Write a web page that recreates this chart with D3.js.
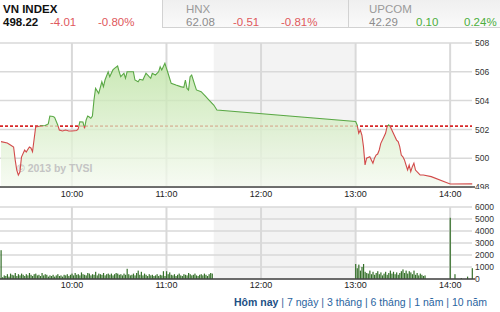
<!DOCTYPE html>
<html>
<head>
<meta charset="utf-8">
<script src="https://cdn.jsdelivr.net/npm/d3@7"></script>
<style>
  body { margin: 0; background: #fff; }
  svg { display: block; font-family: "Liberation Sans", Arial, sans-serif; }
</style>
</head>
<body>
<svg id="chart" width="500" height="312"></svg>
<script>
// --- data ---
var prevClose = 502.23;

var priceTimes = ["9:15","9:19","9:21","9:23","9:24","9:25","9:26","9:27","9:28","9:30","9:31","9:33","9:34","9:35",
  "9:37","9:40","9:43","9:45","9:46","9:48","9:49","9:51","9:52","9:54","9:56","9:58","10:00","10:03","10:04",
  "10:05","10:07","10:08","10:09","10:10","10:11","10:12","10:13","10:14","10:15","10:17","10:19","10:20","10:21",
  "10:23","10:24","10:26","10:27","10:29","10:30","10:31","10:33","10:34","10:35","10:39","10:40","10:42","10:43",
  "10:45","10:47","10:49","10:50","10:51","10:53","10:55","10:56","10:57","10:59","11:00","11:01","11:03","11:06",
  "11:09","11:11","11:12","11:13","11:14","11:15","11:16","11:18","11:19","11:22","11:25","11:27","11:30","11:32",
  "13:00","13:01","13:02","13:03","13:04","13:05","13:06","13:07","13:09","13:10","13:11","13:12","13:13","13:14",
  "13:15","13:16","13:18","13:19","13:20","13:21","13:22","13:23","13:25","13:26","13:27","13:28","13:29","13:30",
  "13:31","13:32","13:33","13:34","13:35","13:36","13:37","13:38","13:40","13:41","13:43","13:48","14:00","14:14"];
var priceValues = [501.15,501.06,500.92,500.78,499.88,499.18,498.83,499.04,500.08,500.57,500.43,500.78,500.71,500.45,
  502.17,502.24,502.27,502.38,502.93,502.90,502.84,502.31,501.96,501.89,501.96,501.89,501.89,501.92,502.03,
  502.53,502.51,502.07,502.65,502.93,502.86,502.77,502.93,504.04,504.85,504.50,505.31,504.97,505.43,
  506.00,505.66,506.13,506.24,506.40,506.00,505.66,505.90,505.55,506.00,506.00,505.43,505.31,505.48,
  505.43,505.90,505.66,505.55,505.90,505.78,506.00,506.35,506.13,506.59,506.24,505.90,505.20,505.08,
  504.97,504.92,505.43,504.85,504.74,505.66,505.78,505.08,504.74,504.62,504.27,504.04,503.69,503.35,
  502.55,502.31,501.73,501.96,501.61,500.80,499.53,500.00,500.10,499.88,499.65,500.00,500.22,500.29,
  500.57,501.03,501.49,501.73,502.19,502.31,502.19,501.96,501.49,501.26,501.15,500.80,500.22,500.10,
  499.88,499.53,499.18,499.53,499.06,499.41,499.65,499.18,498.95,498.83,498.83,498.72,498.21,498.22];

// volume, one bar per minute from the session start
var volMorningStart = "9:15";
var volMorning = [2400,150,300,250,400,200,450,350,300,500,250,400,300,450,350,
  250,400,300,500,350,250,400,450,300,350,250,500,300,400,350,
  200,300,250,350,200,300,400,250,300,200,350,300,400,250,350,
  450,300,500,350,400,300,550,400,350,300,500,450,300,400,350,
  600,300,450,400,350,500,300,400,450,350,450,300,400,500,450,
  350,400,300,450,350,850,400,300,350,450,300,500,700,350,600,
  300,450,350,250,400,300,350,250,300,400,250,350,300,650,250,
  650,400,550,350,300,400,250,350,450,300,250,400,350,300,500,
  400,300,350,450,300,250,350,400,300,450,350,250,400,500,450];
var volAfternoonStart = "13:00";
var volAfternoon = [1250,900,1200,700,1000,1250,600,500,450,700,400,600,350,500,650,
  400,550,300,450,600,350,500,700,450,600,400,550,350,500,650,
  800,500,700,450,650,550,400,700,350,500,300,450,350,250,300];
var volCloseTimes = ["14:00","14:03","14:07","14:11","14:14"];
var volClose = [5100,400,80,200,900];

var timeTicks = ["10:00","11:00","12:00","13:00","14:00"];
var priceTicks = [498,500,502,504,506,508];
var volTicks = [0,1000,2000,3000,4000,5000,6000];
var lunchBreak = ["11:30","13:00"];

var header = [
  {name:"VN INDEX", last:"498.22", chg:"-4.01", pct:"-0.80%", up:false, active:true},
  {name:"HNX", last:"62.08", chg:"-0.51", pct:"-0.81%", up:false, active:false},
  {name:"UPCOM", last:"42.29", chg:"0.10", pct:"0.24%", up:true, active:false}
];
var periodLinks = ["Hôm nay","7 ngày","3 tháng","6 tháng","1 năm","10 năm"];

// --- helpers ---
function mins(s){ var p = s.split(":"); return +p[0]*60 + +p[1]; }

var priceData = priceTimes.map(function(t,i){ return {t: mins(t), v: priceValues[i]}; });
var volData = [];
volMorning.forEach(function(v,i){ volData.push({t: mins(volMorningStart)+i, v: v}); });
volAfternoon.forEach(function(v,i){ volData.push({t: mins(volAfternoonStart)+i, v: v}); });
volCloseTimes.forEach(function(t,i){ volData.push({t: mins(t), v: volClose[i]}); });

var svg = d3.select("#chart");
var plotL = 0, plotR = 472;

var x = d3.scaleLinear().domain([mins("9:15"), mins("14:14")+0.5]).range([1, 473]);
var y = d3.scaleLinear().domain([498, 508]).range([187, 43]);
var yv = d3.scaleLinear().domain([0, 6000]).range([279, 207]);

// --- header tabs ---
var defs = svg.append("defs");
var tabGrad = defs.append("linearGradient").attr("id","tabGrad").attr("x1",0).attr("y1",0).attr("x2",0).attr("y2",1);
tabGrad.append("stop").attr("offset","0%").attr("stop-color","#efefef");
tabGrad.append("stop").attr("offset","100%").attr("stop-color","#fafafa");

svg.append("rect").attr("x",162.5).attr("y",-1).attr("width",340).attr("height",28.5)
  .attr("fill","url(#tabGrad)").attr("stroke","#d2d2d2");
svg.append("line").attr("x1",348.5).attr("x2",348.5).attr("y1",0).attr("y2",27.5).attr("stroke","#d2d2d2");

var tabX = [3, 186, 369];
header.forEach(function(h,i){
  var g = svg.append("g").attr("transform","translate(" + tabX[i] + ",0)");
  g.append("text").attr("x",0).attr("y",12.5).text(h.name)
    .attr("font-size",11.5).attr("font-weight", h.active ? "bold" : "normal")
    .attr("fill", h.active ? "#111" : "#9a9a9a");
  g.append("text").attr("x",0).attr("y",25.5).text(h.last)
    .attr("font-size",11.5).attr("font-weight", h.active ? "bold" : "normal")
    .attr("fill", h.active ? "#111" : "#8c8c8c");
  var c = h.up ? "#4cae3c" : "#e0585c";
  g.append("text").attr("x",47).attr("y",25.5).text(h.chg).attr("font-size",11.5).attr("fill",c);
  g.append("text").attr("x",95).attr("y",25.5).text(h.pct).attr("font-size",11.5).attr("fill",c);
});

// --- panels: lunch shading + grid ---
function panel(yScale, ticks, top, bottom){
  svg.append("rect").attr("x", x(mins(lunchBreak[0]))).attr("y", top)
    .attr("width", x(mins(lunchBreak[1])) - x(mins(lunchBreak[0]))).attr("height", bottom - top)
    .attr("fill", "#f3f3f3");
  svg.append("g").selectAll("line").data(ticks).join("line")
    .attr("x1", plotL).attr("x2", plotR)
    .attr("y1", function(d){ return yScale(d); }).attr("y2", function(d){ return yScale(d); })
    .attr("stroke", "#d9d9d9").attr("stroke-width", 1.5);
  svg.append("g").selectAll("line").data(timeTicks).join("line")
    .attr("x1", function(d){ return x(mins(d)); }).attr("x2", function(d){ return x(mins(d)); })
    .attr("y1", top).attr("y2", bottom)
    .attr("stroke", "#d9d9d9").attr("stroke-width", 2);
}
panel(y, priceTicks, 43, 187);
panel(yv, volTicks, 207, 279);

// --- price chart ---
var grad = defs.append("linearGradient").attr("id","areaGrad")
  .attr("gradientUnits","userSpaceOnUse").attr("x1",0).attr("y1",43).attr("x2",0).attr("y2",187);
grad.append("stop").attr("offset","0%").attr("stop-color","#b2de95");
grad.append("stop").attr("offset","100%").attr("stop-color","#f5faf0");

defs.append("clipPath").attr("id","clipUp").append("rect")
  .attr("x",0).attr("y",0).attr("width",500).attr("height", y(prevClose));
defs.append("clipPath").attr("id","clipDown").append("rect")
  .attr("x",0).attr("y", y(prevClose)).attr("width",500).attr("height", 300);

// reference line (previous close)
svg.append("line").attr("x1", plotL).attr("x2", plotR)
  .attr("y1", y(prevClose)).attr("y2", y(prevClose))
  .attr("stroke", "#d82828").attr("stroke-width", 1.6).attr("stroke-dasharray", "3,2");

var area = d3.area().x(function(d){ return x(d.t); }).y0(y(498)).y1(function(d){ return y(d.v); });
svg.append("path").datum(priceData).attr("d", area).attr("fill", "url(#areaGrad)").attr("opacity", 0.78);

// watermark
svg.append("text").attr("x",17).attr("y",172).text("© 2013 by TVSI")
  .attr("font-size",10.5).attr("font-weight","bold").attr("fill","#c4c4c4");

var line = d3.line().x(function(d){ return x(d.t); }).y(function(d){ return y(d.v); });
svg.append("path").datum(priceData).attr("d", line).attr("fill","none")
  .attr("stroke","#5aa845").attr("stroke-width",1.1).attr("clip-path","url(#clipUp)");
svg.append("path").datum(priceData).attr("d", line).attr("fill","none")
  .attr("stroke","#d24a4a").attr("stroke-width",1.1).attr("clip-path","url(#clipDown)");

// --- volume bars ---
svg.append("g").selectAll("rect").data(volData).join("rect")
  .attr("x", function(d){ return x(d.t) - 0.5; })
  .attr("y", function(d){ return yv(d.v); })
  .attr("width", 1.2)
  .attr("height", function(d){ return yv(0) - yv(d.v); })
  .attr("fill", "#35702a");

// --- axes ---
function bottomAxis(yPos, labelY){
  svg.append("line").attr("x1", plotL).attr("x2", 475).attr("y1", yPos).attr("y2", yPos)
    .attr("stroke", "#444").attr("stroke-width", 1.5);
  svg.append("g").selectAll("text").data(timeTicks).join("text")
    .attr("x", function(d){ return x(mins(d)); }).attr("y", labelY)
    .attr("text-anchor","middle").attr("font-size",9).attr("fill","#222").text(function(d){ return d; });
}
bottomAxis(187, 196.5);
bottomAxis(279, 287.5);

defs.append("clipPath").attr("id","clipPriceLabels").append("rect")
  .attr("x",470).attr("y",30).attr("width",30).attr("height",159);
svg.append("g").attr("clip-path","url(#clipPriceLabels)").selectAll("text").data(priceTicks).join("text")
  .attr("x", 475).attr("y", function(d){ return y(d) + 3.2; })
  .attr("font-size", 8.5).attr("fill", "#333").text(function(d){ return d; });
svg.append("g").selectAll("text").data(volTicks).join("text")
  .attr("x", 475).attr("y", function(d){ return yv(d) + 3.2; })
  .attr("font-size", 8.5).attr("fill", "#333").text(function(d){ return d; });

// --- period links ---
var links = svg.append("text").attr("x", 487).attr("y", 305.5).attr("text-anchor","end")
  .attr("font-size", 10.5).attr("fill", "#2a64a0");
periodLinks.forEach(function(p,i){
  if (i > 0) links.append("tspan").text(" |  ");
  links.append("tspan").text(p).attr("font-weight", i === 0 ? "bold" : "normal")
    .attr("fill", i === 0 ? "#1d4f85" : "#2a64a0");
});
</script>
</body>
</html>
